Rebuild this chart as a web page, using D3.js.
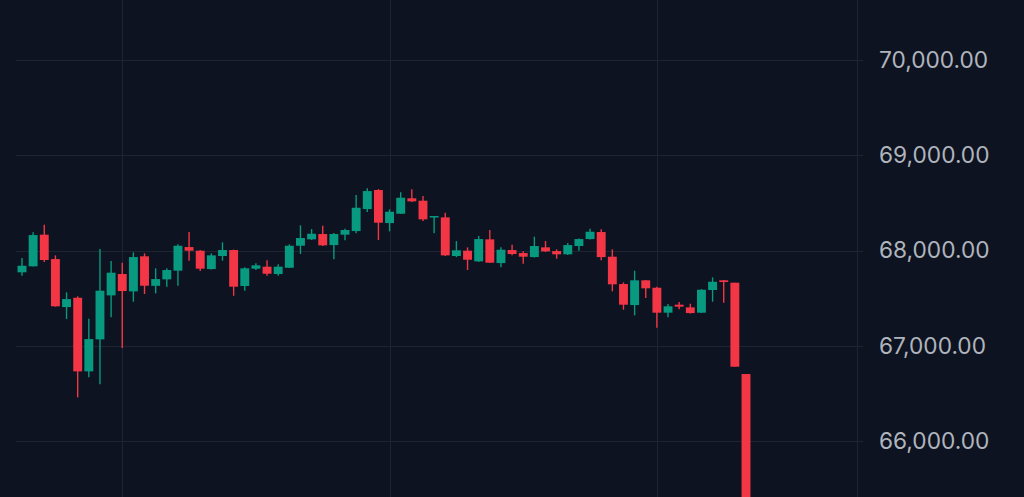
<!DOCTYPE html>
<html>
<head>
<meta charset="utf-8">
<script src="https://cdn.jsdelivr.net/npm/d3@7"></script>
<style>
  html, body { margin: 0; padding: 0; background: #0d121e; }
  svg { display: block; }
</style>
</head>
<body>
<svg id="chart" width="1024" height="497"></svg>
<script>
// ---- data (OHLC per candle) ----
const opens  = [67771,67834,68166,67910,67406,67504,66731,67067,67529,67753,67571,67939,67629,67697,67788,68036,67998,67805,67942,68005,67627,67809,67830,67753,67819,68050,68117,68173,68057,68166,68204,68435,68635,68288,68386,68548,68523,68348,68348,67942,67998,67886,68117,67868,68005,67973,67931,68033,67994,67960,68047,68120,68194,67935,67648,67427,67687,67609,67347,67431,67403,67347,67585,67687,67662,66703];
const highs  = [67921,68191,68271,67949,67561,67519,67284,68015,67890,67872,67981,67970,67813,67813,68065,68194,68005,67970,68086,68010,67823,67865,67897,67855,68065,68264,68225,68260,68183,68229,68582,68653,68645,68432,68611,68642,68572,68362,68397,68099,68033,68152,68215,68033,68061,67991,68145,68099,68012,68078,68127,68229,68222,68012,67666,67788,67690,67619,67438,67459,67441,67595,67718,67690,67662,66703];
const lows   = [67735,67832,67879,67410,67280,66458,66668,66595,67298,66976,67462,67543,67550,67620,67630,67893,67784,67800,67893,67525,67578,67795,67735,67735,67816,67963,68110,68047,67907,68107,68180,68404,68110,68201,68383,68509,68309,68180,67942,67931,67795,67879,67868,67823,67949,67861,67926,67984,67914,67952,67998,68115,67897,67571,67378,67319,67501,67189,67298,67382,67338,67343,67462,67452,66780,65000];
const closes = [67840,68162,67900,67414,67490,66731,67070,67578,67767,67574,67931,67630,67700,67795,68050,67998,67809,67949,68005,67620,67813,67844,67756,67830,68050,68131,68176,68054,68173,68215,68449,68624,68292,68407,68554,68516,68327,68362,67949,68002,67903,68120,67872,68008,67963,67935,68047,67991,67960,68057,68120,68197,67931,67645,67431,67687,67603,67347,67414,67410,67343,67588,67672,67669,66780,65100];
const priceTicks = [66000, 67000, 68000, 69000, 70000];
const timeGridIdx = [9, 33, 57];

// ---- layout ----
const W = 1024, H = 497;
const plotLeft = 16, plotRight = 857;
const upColor = "#089981", downColor = "#f23645";
const gridColor = "#1e2432";

const svg = d3.select("#chart");
svg.append("rect").attr("width", W).attr("height", H).attr("fill", "#0d1320");

const candles = opens.map((o, i) => ({ i, o, h: highs[i], l: lows[i], c: closes[i] }));

const x = d3.scaleLinear().domain([0, candles.length - 1]).range([22, 746]);
const y = d3.scaleLinear().domain([66000, 70000]).range([441, 60]);
const step = x(1) - x(0);
const bodyW = Math.max(1, step * 0.8);

// clip for plot
svg.append("clipPath").attr("id", "plotClip")
  .append("rect").attr("x", 0).attr("y", 0).attr("width", plotRight).attr("height", H);

// grid
const grid = svg.append("g");
grid.selectAll("line.h").data(priceTicks).enter().append("line")
  .attr("x1", plotLeft).attr("x2", plotRight + 6)
  .attr("y1", d => Math.round(y(d)) + 0.5).attr("y2", d => Math.round(y(d)) + 0.5)
  .attr("stroke", gridColor).attr("stroke-width", 1);
grid.selectAll("line.v").data(timeGridIdx).enter().append("line")
  .attr("x1", d => Math.round(x(d)) + 0.5).attr("x2", d => Math.round(x(d)) + 0.5)
  .attr("y1", 0).attr("y2", H)
  .attr("stroke", gridColor).attr("stroke-width", 1);
// price scale border
grid.append("line")
  .attr("x1", plotRight + 0.5).attr("x2", plotRight + 0.5)
  .attr("y1", 0).attr("y2", H)
  .attr("stroke", gridColor).attr("stroke-width", 1);

// candles
const cg = svg.append("g").attr("clip-path", "url(#plotClip)");
const g = cg.selectAll("g.candle").data(candles).enter().append("g");
g.append("line")
  .attr("x1", d => x(d.i)).attr("x2", d => x(d.i))
  .attr("y1", d => y(d.h)).attr("y2", d => y(d.l))
  .attr("stroke", d => d.c >= d.o ? upColor : downColor)
  .attr("stroke-width", 1.4);
g.append("rect")
  .attr("x", d => x(d.i) - bodyW / 2)
  .attr("width", bodyW)
  .attr("y", d => y(Math.max(d.o, d.c)))
  .attr("height", d => Math.max(1.5, Math.abs(y(d.o) - y(d.c))))
  .attr("fill", d => d.c >= d.o ? upColor : downColor);

// price axis labels
const fmt = d3.format(",.2f");
const axis = svg.append("g")
  .attr("transform", `translate(${plotRight + 22},0)`)
  .call(d3.axisRight(y).tickValues(priceTicks).tickSize(0).tickPadding(0).tickFormat(fmt));
axis.select(".domain").remove();
axis.selectAll("text")
  .attr("fill", "#b0b4bd")
  .attr("font-family", "Inter, 'Noto Sans', sans-serif")
  .attr("font-size", 22.7)
  .attr("dy", "0.32em");
</script>
</body>
</html>
